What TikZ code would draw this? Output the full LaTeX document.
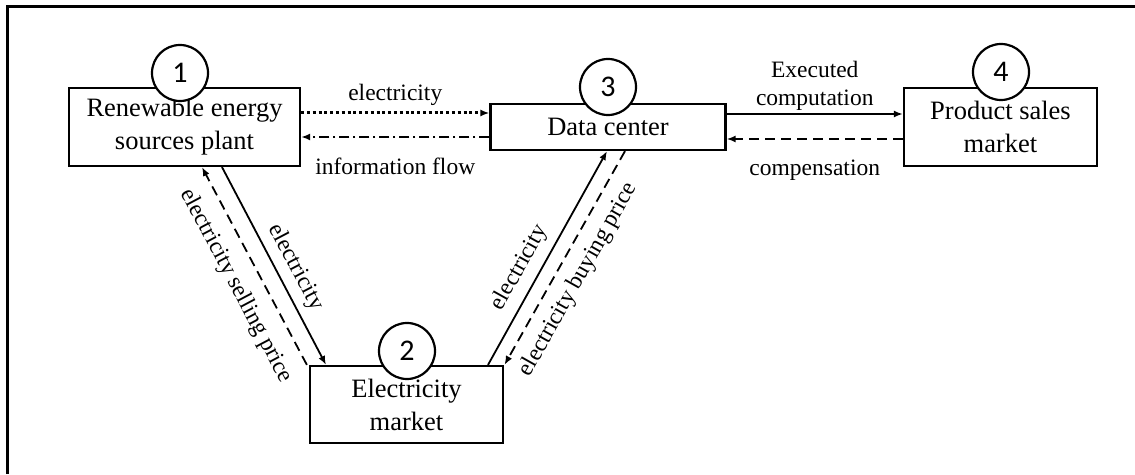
\documentclass[tikz,border=0pt]{standalone}
\usepackage{fontspec}
\setmainfont{Liberation Serif}
\newfontfamily\numfont{Carlito}
\usetikzlibrary{arrows.meta,calc}

\tikzset{
  entity/.style={draw, line width=2.2pt, rectangle, align=center, inner sep=0pt,
    font=\fontsize{26.5}{33}\selectfont},
  badge/.style={draw, line width=2.2pt, circle, fill=white, minimum size=56pt,
    inner sep=0pt, font=\numfont\fontsize{30}{30}\selectfont},
  flow/.style={line width=1.8pt, -{Latex[length=9pt,width=7pt]}},
  dotflow/.style={flow, line width=3pt, dash pattern=on 3pt off 2.8pt},
  dashdotflow/.style={flow, dash pattern=on 10pt off 4pt on 2pt off 4pt},
  dashflow/.style={flow, dash pattern=on 10pt off 6pt},
  lbl/.style={font=\fontsize{23.5}{28}\selectfont, inner sep=0pt, align=center},
}

\begin{document}
\begin{tikzpicture}[x=1pt, y=1pt]
  \useasboundingbox (0,0) rectangle (1135,474);
  \fill[white] (0,0) rectangle (1135,474);

  % frame
  \draw[line width=3pt] (7,0) -- (7,467) -- (1135,467);

  % actors
  \node[entity, minimum width=231pt, minimum height=78pt] (plant) at (184.5,347)
    {Renewable energy\\sources plant};
  \node[entity, minimum width=235pt, minimum height=46pt] (dc) at (608,347)
    {Data center};
  \node[entity, minimum width=193pt, minimum height=78pt] (psm) at (1000.5,347)
    {Product sales\\market};
  \node[entity, minimum width=193pt, minimum height=77pt] (em) at (406.5,69.5)
    {Electricity\\market};

  % numbered badges
  \node[badge] (n1) at (180,401) {1};
  \node[badge] (n2) at (407,123) {2};
  \node[badge] (n3) at (608,387) {3};
  \node[badge] (n4) at (1001,402) {4};

  % plant <-> data center
  \draw[dotflow] ([yshift=14pt]plant.east) --
    node[lbl, above=6pt] {electricity} ([yshift=14pt]dc.west);
  \draw[dashdotflow] ([yshift=-10pt]dc.west) --
    node[lbl, below=20pt] {information flow} ([yshift=-10pt]plant.east);

  % data center <-> product sales market
  \draw[flow] ([yshift=13pt]dc.east) --
    node[lbl, above=3pt] {Executed\\computation} ([yshift=13pt]psm.west);
  \draw[dashflow] ([yshift=-12pt]psm.west) --
    node[lbl, below=20pt] {compensation} ([yshift=-12pt]dc.east);

  % plant <-> electricity market
  \draw[flow] ([xshift=37.5pt]plant.south) --
    node[lbl, sloped, above=7pt, pos=0.55] {electricity} ([xshift=-80.5pt]em.north);
  \draw[dashflow] ([xshift=-2pt]em.north west) --
    node[lbl, sloped, below=14pt, pos=0.46] {electricity selling price}
    ([xshift=17.5pt]plant.south);

  % electricity market <-> data center
  \draw[flow] ([xshift=81.5pt]em.north) --
    node[lbl, sloped, above=8pt, pos=0.41] {electricity} ([xshift=-1pt]dc.south);
  \draw[dashflow] ([xshift=17pt]dc.south) --
    node[lbl, sloped, below=11pt, pos=0.55] {electricity buying price}
    ([xshift=98pt]em.north);
\end{tikzpicture}
\end{document}
